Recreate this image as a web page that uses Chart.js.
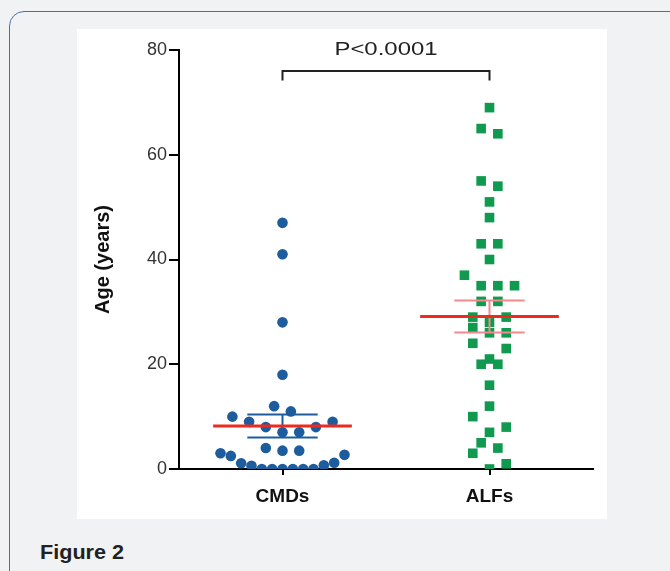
<!DOCTYPE html>
<html>
<head>
<meta charset="utf-8">
<script src="https://cdn.jsdelivr.net/npm/chart.js@4.4.0/dist/chart.umd.min.js"></script>
<style>
html, body { margin: 0; padding: 0; width: 670px; height: 571px; overflow: hidden; background: #f1f2f4; font-family: "Liberation Sans", Arial, sans-serif; }
#panel { position: absolute; left: 9px; top: 11px; width: 720px; height: 620px; border: 1.5px solid #4d6cb6; border-radius: 15px; box-sizing: border-box; }
#box { position: absolute; left: 77px; top: 29px; width: 530px; height: 490px; background: #fff; }
#cap { position: absolute; left: 40px; top: 541px; font-weight: bold; font-size: 20px; color: #222; transform: scale(1.08, 1); transform-origin: left center; }
</style>
</head>
<body>
<div id="panel"></div>
<div id="box"><canvas id="ageChart" width="530" height="490"></canvas></div>
<div id="cap">Figure 2</div>
<script>
// groups and ages
var categories = ["CMDs", "ALFs"];
var cmdAges = [47, 41, 28, 18, 12, 11, 10, 9, 9, 8, 8, 7, 7, 4, 3.5, 3.5, 3, 2.7, 2.5, 1.2, 1.1, 0.7, 0.6, 0, 0, 0, 0, 0, 0];
var alfAges = [69, 65, 64, 55, 54, 51, 48, 43, 43, 40, 37, 35, 35, 35, 32, 32, 29, 29, 28, 27, 26, 26, 24, 23, 21, 20, 20, 16, 12, 10, 8, 7, 5, 4, 3, 1, 0];
var yTicks = [0, 20, 40, 60, 80];
var pLabel = "P<0.0001";

var blue = "#1d5c9d";
var green = "#109a4f";
var red = "#ee2a1f";
var pink = "#f4898c";

// px per x unit, only used to spread the dots sideways
var pxPerX = 207;

// prism-like scatter: points binned into rows, each row spread out from the centre
function spread(values, center, binH, step, maxHalf) {
    var bins = {};
    values.forEach(function (v, i) {
        var b = Math.floor(v / binH);
        (bins[b] = bins[b] || []).push(i);
    });
    var xs = [];
    Object.keys(bins).forEach(function (b) {
        var idx = bins[b].sort(function (a, c) { return values[a] - values[c]; });
        var n = idx.length;
        var s = n > 1 ? Math.min(step, 2 * maxHalf / (n - 1)) : step;
        idx.forEach(function (i, k) {
            var off;
            if (n % 2) {
                off = k === 0 ? 0 : (k % 2 ? 1 : -1) * Math.ceil(k / 2) * s;
            } else {
                off = (k % 2 ? -1 : 1) * (Math.floor(k / 2) + 0.5) * s;
            }
            xs[i] = center + off / pxPerX;
        });
    });
    return values.map(function (v, i) { return {x: xs[i], y: v}; });
}

function meanSem(values) {
    var n = values.length;
    var m = values.reduce(function (a, b) { return a + b; }, 0) / n;
    var ss = values.reduce(function (a, b) { return a + (b - m) * (b - m); }, 0);
    return {mean: m, sem: Math.sqrt(ss / (n - 1)) / Math.sqrt(n)};
}

function meanLine(values, x) {
    var s = meanSem(values);
    return [{x: x - 0.335, y: s.mean}, {x: x + 0.335, y: s.mean}];
}

function semBars(values, x) {
    var s = meanSem(values);
    var hi = s.mean + s.sem, lo = s.mean - s.sem, w = 0.17;
    return [{x: x - w, y: hi}, {x: x + w, y: hi}, {x: x, y: null},
            {x: x, y: hi}, {x: x, y: lo}, {x: x, y: null},
            {x: x - w, y: lo}, {x: x + w, y: lo}];
}

var bracket = [{x: 1, y: 74.2}, {x: 1, y: 76}, {x: 2, y: 76}, {x: 2, y: 74.2}];

var pValuePlugin = {
    id: "pValue",
    afterDraw: function (chart) {
        var ctx = chart.ctx;
        var xs = chart.scales.x, ys = chart.scales.y;
        var cx = (xs.getPixelForValue(1) + xs.getPixelForValue(2)) / 2;
        var cy = ys.getPixelForValue(80.1);
        ctx.save();
        ctx.fillStyle = "#222";
        ctx.font = "19px 'Liberation Sans', Arial, sans-serif";
        ctx.textAlign = "center";
        ctx.textBaseline = "middle";
        ctx.translate(cx, cy);
        ctx.scale(1.26, 1);
        ctx.fillText(pLabel, 0, 0);
        ctx.restore();
    }
};

var lineStyle = {type: "line", showLine: true, pointRadius: 0, fill: false, spanGaps: false, order: 0};

new Chart("ageChart", {
    type: "scatter",
    data: {
        datasets: [
            Object.assign({data: meanLine(cmdAges, 1), borderColor: red, borderWidth: 3}, lineStyle),
            Object.assign({data: semBars(cmdAges, 1), borderColor: blue, borderWidth: 2}, lineStyle),
            Object.assign({data: meanLine(alfAges, 2), borderColor: red, borderWidth: 3}, lineStyle),
            Object.assign({data: semBars(alfAges, 2), borderColor: pink, borderWidth: 2}, lineStyle),
            Object.assign({data: bracket, borderColor: "#222", borderWidth: 2}, lineStyle),
            {
                data: spread(cmdAges, 1, 3.5, 16.7, 62),
                pointStyle: "circle",
                pointRadius: 5.3,
                backgroundColor: blue,
                borderWidth: 0,
                order: 1
            },
            {
                data: spread(alfAges, 2, 3.5, 16.7, 62),
                pointStyle: "rect",
                pointRadius: 6.8,
                backgroundColor: green,
                borderWidth: 0,
                order: 1
            }
        ]
    },
    options: {
        responsive: false,
        animation: false,
        layout: {padding: {top: 21, right: 14, left: 0, bottom: 0}},
        plugins: {legend: {display: false}, tooltip: {enabled: false}},
        scales: {
            x: {
                type: "linear",
                min: 0.5,
                max: 2.5,
                afterBuildTicks: function (scale) {
                    scale.ticks = [{value: 1}, {value: 2}];
                },
                afterFit: function (scale) { scale.height = 50; },
                border: {display: true, color: "#000", width: 2},
                grid: {drawOnChartArea: false, drawTicks: true, tickLength: 6, color: "#000", lineWidth: 2},
                ticks: {
                    color: "#111",
                    font: {family: "'Liberation Sans', Arial, sans-serif", size: 19, weight: "bold"},
                    padding: 10,
                    callback: function (v) { return categories[v - 1]; }
                }
            },
            y: {
                min: 0,
                max: 80,
                afterBuildTicks: function (scale) {
                    scale.ticks = yTicks.map(function (v) { return {value: v}; });
                },
                afterFit: function (scale) { scale.width = 102; },
                border: {display: true, color: "#000", width: 2},
                grid: {drawOnChartArea: false, drawTicks: true, tickLength: 10, color: "#000", lineWidth: 2},
                ticks: {
                    color: "#333",
                    font: {family: "'Liberation Sans', Arial, sans-serif", size: 18},
                    padding: 2
                },
                title: {
                    display: true,
                    text: "Age (years)",
                    color: "#111",
                    font: {family: "'Liberation Sans', Arial, sans-serif", size: 20, weight: "bold"},
                    padding: {top: 14, bottom: 0}
                }
            }
        }
    },
    plugins: [pValuePlugin]
});
</script>
</body>
</html>
